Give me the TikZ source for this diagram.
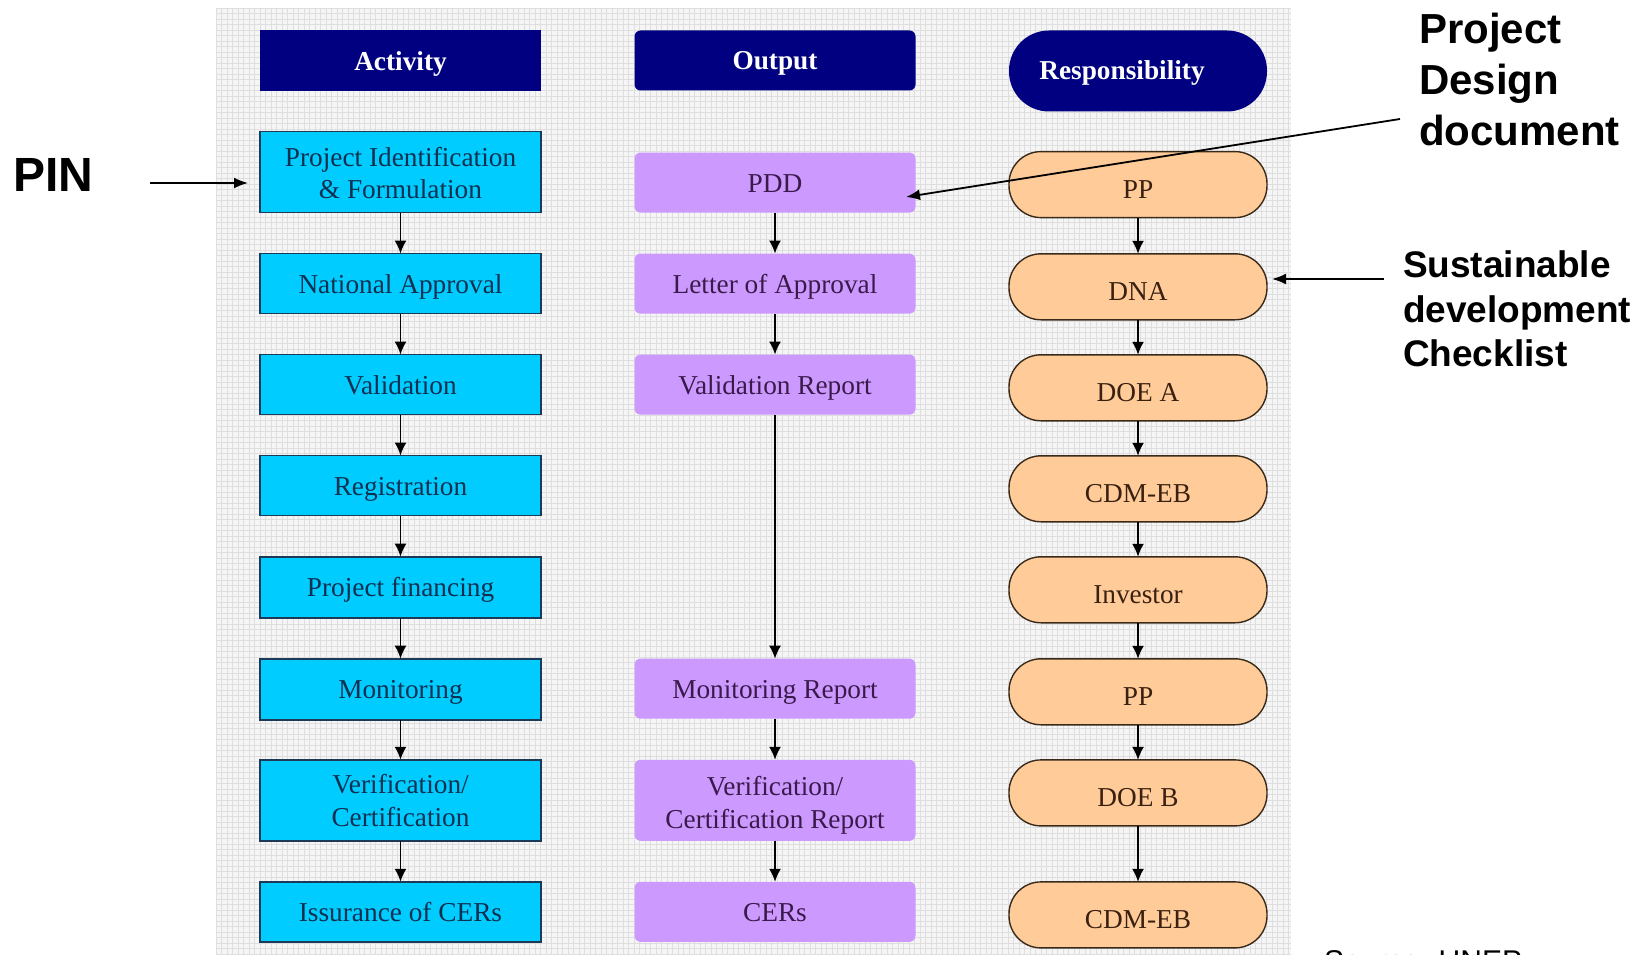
\documentclass[tikz,border=0pt]{standalone}
\usepackage{fontspec}
\setmainfont{Liberation Serif}
\newfontfamily\labelfont{Liberation Sans}
\usetikzlibrary{arrows.meta}

\definecolor{navy}{HTML}{000080}
\definecolor{actfill}{HTML}{00CCFF}
\definecolor{actline}{HTML}{1C3A57}
\definecolor{acttext}{HTML}{0F3050}
\definecolor{outfill}{HTML}{CC99FF}
\definecolor{outtext}{HTML}{3A1A4A}
\definecolor{respfill}{HTML}{FFCC99}
\definecolor{respline}{HTML}{3A2A1A}
\definecolor{resptext}{HTML}{3A2010}
\definecolor{paper}{HTML}{F5F5F5}
\definecolor{gridline}{HTML}{DEDEDE}

\newcommand{\boxfont}{\fontsize{27.3}{32.5}\selectfont}
\newcommand{\headfont}{\bfseries\fontsize{27.3}{32.5}\selectfont}

\tikzset{
  basebox/.style={inner sep=0pt, outer sep=0pt, align=center,
    text height=19pt, text depth=0pt},
  twolines/.style={text height=53pt, text depth=0pt},
  acthead/.style={basebox, fill=navy, text=white, font=\headfont,
    minimum width=281pt, minimum height=61pt},
  outhead/.style={basebox, fill=navy, text=white, font=\headfont,
    rounded corners=6pt, minimum width=281pt, minimum height=60pt},
  resphead/.style={basebox, fill=navy, text=white, font=\headfont,
    rounded corners=40pt, minimum width=258pt, minimum height=81pt,
    text height=17pt},
  actbox/.style={basebox, draw=actline, line width=1.6pt, fill=actfill,
    text=acttext, font=\boxfont, minimum width=281pt, minimum height=60pt},
  outbox/.style={basebox, fill=outfill, text=outtext, font=\boxfont,
    rounded corners=6pt, minimum width=281pt, minimum height=60pt},
  respbox/.style={basebox, draw=respline, line width=1.4pt, fill=respfill,
    text=resptext, font=\boxfont, rounded corners=32pt,
    minimum width=258pt, minimum height=66pt, text height=27pt},
  flow/.style={line width=1.8pt, -{Latex[length=13pt,width=12pt]}},
  note/.style={line width=1.8pt, -{Latex[length=14pt,width=11pt]}},
  notetext/.style={inner sep=0pt, outer sep=0pt, align=left,
    font=\labelfont\bfseries}
}

\begin{document}
\begin{tikzpicture}[x=1pt,y=-1pt]
\useasboundingbox (0,0) rectangle (1650,955);

% squared paper behind the three columns
\fill[paper] (216,8) rectangle (1291,955);
\begin{scope}
  \clip (216,8) rectangle (1291,955);
  \foreach \gx in {216,221.5,...,1292} {\draw[gridline, line width=0.7pt] (\gx,8) -- (\gx,955);}
  \foreach \gy in {8,13.5,...,956} {\draw[gridline, line width=0.7pt] (216,\gy) -- (1291,\gy);}
\end{scope}

% column headers
\node[acthead]  (acth) at (400.5,61)  {Activity};
\node[outhead]  (outh) at (775,60.5)  {Output};
\node[resphead] (resh) at (1138,71)   {\hspace*{-32pt}Responsibility};

% activities
\node[actbox, twolines, text height=54pt, minimum height=81pt] (a1) at (400.5,172) {Project Identification\\\& Formulation};
\node[actbox] (a2) at (400.5,283.6) {National Approval};
\node[actbox] (a3) at (400.5,384.6) {Validation};
\node[actbox] (a4) at (400.5,485.6) {Registration};
\node[actbox, minimum height=61pt] (a5) at (400.5,587.2) {Project financing};
\node[actbox, minimum height=61pt] (a6) at (400.5,689.2) {Monitoring};
\node[actbox, twolines, text height=52pt, minimum height=81pt] (a7) at (400.5,800.3) {Verification/\\Certification};
\node[actbox] (a8) at (400.5,911.8) {Issurance of CERs};

% outputs
\node[outbox] (o1) at (775,182.6) {PDD};
\node[outbox] (o2) at (775,283.6) {Letter of Approval};
\node[outbox] (o3) at (775,384.6) {Validation Report};
\node[outbox] (o4) at (775,688.7) {Monitoring Report};
\node[outbox, twolines, text height=56pt, minimum height=81pt] (o5) at (775,800.3) {Verification/\\Certification Report};
\node[outbox] (o6) at (775,911.8) {CERs};

% responsible parties
\node[respbox] (r1) at (1138,184.6) {PP};
\node[respbox] (r2) at (1138,286.8) {DNA};
\node[respbox] (r3) at (1138,387.8) {DOE A};
\node[respbox] (r4) at (1138,488.8) {CDM-EB};
\node[respbox] (r5) at (1138,589.8) {Investor};
\node[respbox] (r6) at (1138,691.8) {PP};
\node[respbox] (r7) at (1138,792.9) {DOE B};
\node[respbox] (r8) at (1138,914.9) {CDM-EB};

% sequence arrows
\foreach \p/\q in {a1/a2,a2/a3,a3/a4,a4/a5,a5/a6,a6/a7,a7/a8,
                   o1/o2,o2/o3,o3/o4,o4/o5,o5/o6,
                   r1/r2,r2/r3,r3/r4,r4/r5,r5/r6,r6/r7,r7/r8}
  \draw[flow] (\p) -- (\q);

% side notes
\node[notetext, anchor=base west, font=\labelfont\bfseries\fontsize{48}{52}\selectfont] (pin) at (13,192) {PIN};
\node[notetext, anchor=north west, font=\labelfont\bfseries\fontsize{42}{51}\selectfont] (pdd) at (1419,13) {Project\\Design\\document};
\node[notetext, anchor=north west, font=\labelfont\bfseries\fontsize{37}{44.5}\selectfont] (sdc) at (1403,251) {Sustainable\\development\\Checklist};
\node[inner sep=0pt, anchor=base west, font=\labelfont\fontsize{30}{34}\selectfont] (src) at (1324,971.5) {Source: UNEP};

\coordinate (pinTail) at (150,183);
\coordinate (pinHead) at (248,183);
\coordinate (pddTail) at (1400,119);
\coordinate (pddHead) at (906,197);
\coordinate (sdcTail) at (1384,279);
\coordinate (sdcHead) at (1272,279);

\draw[note] (pinTail) -- (pinHead);
\draw[note] (pddTail) -- (pddHead);
\draw[note] (sdcTail) -- (sdcHead);
\end{tikzpicture}
\end{document}
